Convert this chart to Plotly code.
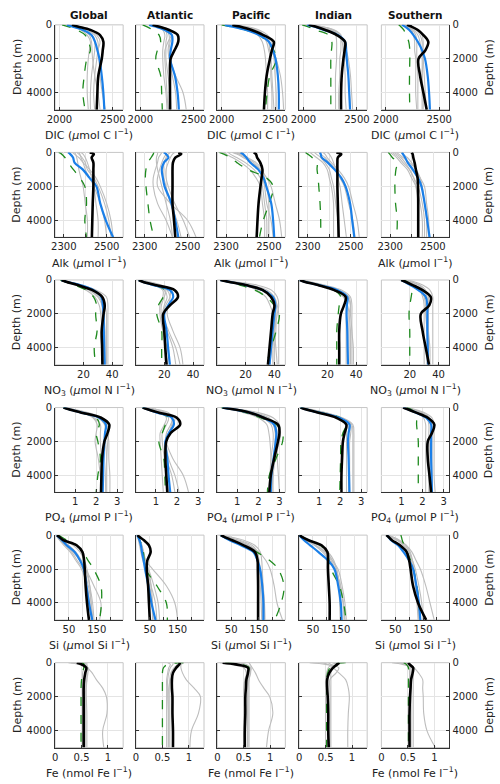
import plotly.graph_objects as go

DEPTH = [0, 100, 300, 600, 1000, 1500, 2000, 3000, 4000, 5000]
REGIONS = ["Global", "Atlantic", "Pacific", "Indian", "Southern"]

# ---------------- DIC ----------------
DIC_OBS = [
    [2117, 2170, 2290, 2380, 2411, 2405, 2396, 2364, 2355, 2349],
    [2115, 2170, 2270, 2350, 2355, 2320, 2284, 2278, 2278, 2278],
    [2100, 2170, 2280, 2390, 2488, 2470, 2452, 2421, 2405, 2396],
    [2049, 2110, 2204, 2312, 2389, 2385, 2374, 2358, 2352, 2352],
    [2198, 2240, 2300, 2352, 2398, 2370, 2306, 2321, 2352, 2383],
]
DIC_MEAN = [
    [2071, 2120, 2220, 2300, 2333, 2355, 2374, 2396, 2411, 2420],
    [2083, 2140, 2230, 2295, 2300, 2285, 2278, 2324, 2349, 2361],
    [2030, 2100, 2230, 2350, 2442, 2480, 2504, 2526, 2535, 2535],
    [2035, 2100, 2190, 2320, 2389, 2400, 2405, 2420, 2428, 2436],
    [2152, 2180, 2220, 2259, 2300, 2340, 2367, 2392, 2405, 2413],
]
DIC_ALT = [
    [2025, 2080, 2163, 2240, 2272, 2290, 2256, 2232, 2219, 2240],
    [2022, 2060, 2115, 2176, 2191, 2160, 2145, 2191, 2200, 2206],
    [2000, 2080, 2220, 2350, 2426, 2488, 2514, 2450, 2426, 2410],
    [1988, 2040, 2111, 2235, 2266, 2262, 2256, 2256, 2256, 2256],
    [2121, 2140, 2168, 2190, 2215, 2225, 2225, 2222, 2222, 2225],
]
DIC_MODELS = [
    [[2090, 2140, 2230, 2300, 2330, 2330, 2320, 2300, 2290, 2290],
     [2100, 2160, 2250, 2330, 2360, 2365, 2370, 2380, 2400, 2430],
     [2080, 2130, 2220, 2280, 2300, 2305, 2310, 2330, 2360, 2380],
     [2110, 2170, 2260, 2350, 2380, 2360, 2350, 2330, 2320, 2330],
     [2070, 2120, 2200, 2260, 2290, 2280, 2270, 2260, 2260, 2270]],
    [[2100, 2180, 2260, 2300, 2280, 2270, 2280, 2330, 2400, 2430],
     [2090, 2160, 2230, 2250, 2240, 2240, 2240, 2260, 2280, 2290],
     [2110, 2190, 2270, 2290, 2260, 2230, 2230, 2240, 2250, 2260],
     [2080, 2150, 2210, 2230, 2220, 2210, 2210, 2220, 2240, 2250],
     [2100, 2170, 2240, 2270, 2270, 2260, 2270, 2300, 2330, 2340]],
    [[2050, 2200, 2330, 2400, 2450, 2480, 2510, 2550, 2570, 2580],
     [2030, 2170, 2300, 2380, 2420, 2440, 2460, 2470, 2480, 2490],
     [2060, 2230, 2350, 2430, 2470, 2480, 2490, 2500, 2510, 2510],
     [2010, 2150, 2260, 2340, 2380, 2400, 2410, 2420, 2430, 2430],
     [2040, 2180, 2310, 2400, 2440, 2450, 2460, 2460, 2470, 2470]],
    [[2030, 2130, 2250, 2330, 2360, 2380, 2400, 2420, 2430, 2440],
     [2060, 2170, 2290, 2350, 2350, 2350, 2340, 2340, 2330, 2330],
     [2040, 2150, 2270, 2340, 2380, 2400, 2420, 2440, 2450, 2460],
     [2020, 2120, 2240, 2300, 2310, 2310, 2310, 2300, 2300, 2300],
     [2050, 2160, 2280, 2350, 2370, 2370, 2380, 2390, 2390, 2400]],
    [[2170, 2220, 2280, 2320, 2340, 2340, 2350, 2360, 2370, 2380],
     [2150, 2200, 2250, 2280, 2290, 2290, 2290, 2300, 2300, 2300],
     [2180, 2240, 2310, 2340, 2350, 2350, 2350, 2340, 2340, 2340],
     [2160, 2200, 2260, 2300, 2320, 2330, 2340, 2340, 2350, 2350],
     [2140, 2190, 2240, 2260, 2270, 2270, 2280, 2280, 2280, 2290]],
]

# ---------------- Alkalinity ----------------
ALK_OBS = [
    [2421, 2440, 2430, 2438, 2438, 2438, 2438, 2435, 2433, 2431],
    [2457, 2471, 2443, 2432, 2430, 2430, 2430, 2430, 2437, 2443],
    [2429, 2440, 2445, 2460, 2470, 2466, 2461, 2452, 2447, 2443],
    [2433, 2456, 2440, 2438, 2438, 2438, 2438, 2440, 2442, 2444],
    [2400, 2405, 2408, 2414, 2420, 2428, 2430, 2431, 2431, 2431],
]
ALK_MEAN = [
    [2320, 2330, 2343, 2350, 2388, 2420, 2452, 2470, 2496, 2530],
    [2389, 2400, 2411, 2390, 2380, 2385, 2393, 2425, 2443, 2457],
    [2368, 2380, 2395, 2413, 2450, 2475, 2488, 2511, 2520, 2525],
    [2357, 2360, 2365, 2393, 2424, 2456, 2476, 2497, 2507, 2517],
    [2355, 2360, 2370, 2382, 2405, 2430, 2446, 2461, 2473, 2484],
]
ALK_ALT = [
    [2276, 2290, 2305, 2321, 2344, 2375, 2398, 2406, 2398, 2406],
    [2343, 2340, 2330, 2315, 2306, 2303, 2306, 2315, 2325, 2343],
    [2269, 2290, 2320, 2351, 2400, 2488, 2520, 2502, 2474, 2456],
    [2289, 2300, 2320, 2343, 2343, 2348, 2351, 2357, 2360, 2360],
    [2291, 2298, 2310, 2333, 2327, 2323, 2322, 2325, 2333, 2330],
]
ALK_MODELS = [
    [[2340, 2350, 2370, 2390, 2420, 2450, 2470, 2500, 2520, 2530],
     [2370, 2375, 2380, 2390, 2400, 2420, 2440, 2470, 2490, 2500],
     [2350, 2355, 2360, 2365, 2370, 2380, 2390, 2400, 2410, 2410],
     [2380, 2390, 2400, 2410, 2420, 2430, 2440, 2450, 2460, 2460],
     [2360, 2370, 2385, 2400, 2410, 2440, 2460, 2490, 2510, 2520]],
    [[2400, 2400, 2390, 2380, 2370, 2360, 2360, 2420, 2500, 2540],
     [2380, 2375, 2365, 2360, 2350, 2340, 2340, 2360, 2400, 2430],
     [2420, 2410, 2400, 2390, 2390, 2390, 2400, 2420, 2450, 2470],
     [2360, 2360, 2355, 2355, 2360, 2370, 2380, 2400, 2420, 2430],
     [2440, 2430, 2420, 2410, 2400, 2400, 2410, 2440, 2480, 2510]],
    [[2330, 2350, 2380, 2420, 2460, 2490, 2510, 2530, 2550, 2560],
     [2310, 2320, 2350, 2390, 2430, 2460, 2470, 2480, 2490, 2490],
     [2350, 2370, 2400, 2440, 2470, 2480, 2490, 2500, 2500, 2500],
     [2290, 2300, 2330, 2370, 2410, 2440, 2460, 2470, 2480, 2480],
     [2340, 2360, 2390, 2430, 2460, 2470, 2480, 2490, 2510, 2520]],
    [[2350, 2360, 2380, 2400, 2430, 2450, 2470, 2490, 2510, 2520],
     [2330, 2340, 2360, 2380, 2400, 2410, 2420, 2430, 2440, 2440],
     [2390, 2400, 2410, 2420, 2430, 2440, 2450, 2460, 2470, 2480],
     [2310, 2320, 2340, 2370, 2390, 2400, 2410, 2420, 2420, 2420],
     [2370, 2380, 2390, 2410, 2440, 2470, 2490, 2510, 2530, 2540]],
    [[2330, 2340, 2360, 2390, 2420, 2440, 2460, 2470, 2480, 2480],
     [2300, 2310, 2330, 2350, 2380, 2400, 2420, 2440, 2450, 2450],
     [2350, 2360, 2380, 2400, 2420, 2440, 2450, 2460, 2470, 2470],
     [2320, 2330, 2350, 2370, 2390, 2410, 2430, 2450, 2460, 2460],
     [2310, 2320, 2340, 2360, 2390, 2410, 2420, 2430, 2430, 2430]],
]

# ---------------- Nitrate ----------------
NO3_OBS = [
    [4.8, 8, 16.1, 26.3, 33.1, 34.8, 34, 32.7, 33, 33.2],
    [2.3, 5, 13.6, 27.3, 29.5, 23.9, 19.3, 20, 20.7, 21.6],
    [2.5, 8, 20, 32, 37.7, 40, 38.8, 37.7, 36.6, 35.5],
    [0.9, 4, 13.4, 24.8, 32.7, 31.5, 29.3, 28.2, 28.2, 28.2],
    [14.1, 17, 22, 28.9, 34.6, 33.5, 27.7, 28.9, 31.1, 33.4],
]
NO3_MEAN = [
    [4.8, 8, 17.5, 27, 32.4, 33.5, 34, 34.2, 34.5, 34.8],
    [2.3, 5, 12.5, 24, 26.2, 22.7, 20, 21.6, 22.7, 23.9],
    [2.5, 8, 20, 32, 38.9, 40.7, 40, 38.8, 37.7, 36.6],
    [0.9, 4, 14, 27, 33.8, 33.5, 33.3, 33.8, 34, 34.3],
    [14.1, 16.5, 20.5, 26, 31.1, 32.2, 32.2, 32.2, 32.5, 32.7],
]
NO3_ALT = [
    [4, 7, 14, 22, 27, 29.2, 28.5, 29.5, 27.5, 28.6],
    [2.3, 5, 12.5, 20.5, 19.3, 15.9, 14.8, 18.2, 18.2, 18.2],
    [2.5, 7, 16, 26.4, 34.3, 40, 43.4, 41.2, 37.7, 34.3],
    [0.9, 4.5, 14.5, 24.8, 29.3, 28.2, 27.5, 26.5, 26.5, 26.5],
    [15.2, 18, 21, 21.6, 21, 20, 19.5, 20, 20, 20],
]
NO3_MODELS = [
    [[5, 9, 17, 27, 33, 35, 36, 36, 36, 36],
     [4, 8, 15, 24, 30, 33, 34, 35, 35, 35],
     [6, 10, 19, 29, 36, 37, 37, 37, 37, 37],
     [5, 8, 16, 25, 31, 33, 33, 33, 34, 34],
     [4, 7, 14, 22, 28, 31, 32, 33, 34, 35]],
    [[2, 7, 15, 22, 24, 23, 22, 26, 31, 33],
     [3, 8, 16, 21, 20, 18, 18, 22, 26, 28],
     [2, 6, 13, 19, 19, 17, 17, 19, 22, 24],
     [3, 9, 18, 24, 24, 21, 19, 20, 21, 22],
     [2, 7, 14, 20, 22, 20, 19, 23, 28, 31]],
    [[3, 10, 24, 35, 40, 42, 43, 43, 43, 43],
     [2, 8, 20, 31, 37, 40, 41, 41, 40, 40],
     [4, 12, 28, 38, 42, 43, 42, 40, 38, 37],
     [2, 7, 18, 28, 34, 37, 39, 40, 41, 42],
     [3, 9, 22, 33, 39, 41, 41, 40, 39, 39]],
    [[1, 6, 15, 27, 34, 36, 36, 37, 37, 37],
     [2, 7, 16, 28, 35, 36, 35, 35, 35, 35],
     [1, 5, 13, 24, 31, 34, 35, 36, 36, 36],
     [2, 8, 18, 30, 36, 37, 37, 37, 38, 38],
     [1, 6, 14, 25, 32, 33, 33, 33, 33, 33]],
    [[14, 20, 26, 30, 32, 33, 33, 33, 34, 34],
     [15, 21, 27, 31, 33, 33, 33, 33, 33, 33],
     [13, 18, 23, 27, 29, 30, 30, 30, 30, 30],
     [16, 23, 29, 34, 36, 36, 36, 36, 36, 36],
     [14, 19, 24, 28, 30, 31, 31, 32, 32, 32]],
]

# ---------------- Phosphate ----------------
PO4_OBS = [
    [0.45, 0.7, 1.3, 2.23, 2.62, 2.54, 2.39, 2.28, 2.25, 2.23],
    [0.37, 0.6, 1.14, 1.99, 2.15, 1.7, 1.49, 1.45, 1.49, 1.54],
    [0.3, 0.8, 1.6, 2.25, 2.93, 3.0, 2.93, 2.75, 2.59, 2.52],
    [0.12, 0.35, 0.97, 1.82, 2.29, 2.21, 2.13, 2.09, 2.06, 2.06],
    [1.08, 1.3, 1.7, 2.25, 2.56, 2.45, 2.25, 2.25, 2.33, 2.41],
]
PO4_MEAN = [
    [0.45, 0.7, 1.3, 2.15, 2.46, 2.42, 2.39, 2.35, 2.33, 2.31],
    [0.37, 0.6, 1.05, 1.75, 1.85, 1.62, 1.45, 1.54, 1.6, 1.68],
    [0.3, 0.8, 1.6, 2.25, 2.75, 2.85, 2.82, 2.72, 2.62, 2.59],
    [0.12, 0.35, 1.0, 1.95, 2.44, 2.4, 2.37, 2.4, 2.42, 2.44],
    [1.08, 1.3, 1.7, 2.17, 2.41, 2.41, 2.41, 2.41, 2.43, 2.45],
]
PO4_ALT = [
    [0.45, 0.7, 1.3, 2.0, 2.15, 2.0, 2.08, 2.2, 2.08, 2.0],
    [0.37, 0.6, 1.14, 1.6, 1.45, 1.3, 1.14, 1.37, 1.42, 1.45],
    [0.25, 0.7, 1.4, 2.1, 2.85, 3.15, 3.15, 2.84, 2.52, 2.43],
    [0.12, 0.4, 1.1, 2.0, 2.29, 2.13, 2.04, 2.02, 2.0, 1.98],
    [1.25, 1.45, 1.65, 1.72, 1.72, 1.76, 1.8, 1.8, 1.8, 1.8],
]
PO4_MODELS = [
    [[0.45, 0.8, 1.4, 2.1, 2.4, 2.45, 2.45, 2.5, 2.5, 2.5],
     [0.5, 0.9, 1.5, 2.2, 2.5, 2.55, 2.6, 2.6, 2.65, 2.65],
     [0.4, 0.7, 1.3, 1.9, 2.2, 2.2, 2.2, 2.25, 2.3, 2.3],
     [0.5, 0.9, 1.6, 2.3, 2.6, 2.6, 2.55, 2.5, 2.45, 2.45],
     [0.45, 0.8, 1.3, 1.85, 2.05, 2.0, 1.95, 2.1, 2.2, 2.3]],
    [[0.4, 0.9, 1.5, 1.9, 1.8, 1.6, 1.5, 1.8, 2.3, 2.55],
     [0.35, 0.8, 1.3, 1.6, 1.5, 1.3, 1.3, 1.4, 1.5, 1.6],
     [0.45, 1.0, 1.6, 1.8, 1.7, 1.5, 1.45, 1.5, 1.75, 1.9],
     [0.3, 0.7, 1.2, 1.5, 1.4, 1.2, 1.2, 1.25, 1.3, 1.35],
     [0.4, 0.85, 1.4, 1.75, 1.75, 1.6, 1.5, 1.6, 1.9, 2.1]],
    [[0.3, 0.9, 1.8, 2.5, 2.8, 2.9, 2.9, 2.9, 2.95, 3.0],
     [0.25, 0.7, 1.5, 2.2, 2.6, 2.7, 2.7, 2.6, 2.55, 2.5],
     [0.35, 1.0, 2.0, 2.7, 3.0, 3.05, 3.0, 2.8, 2.7, 2.65],
     [0.2, 0.6, 1.3, 2.0, 2.4, 2.5, 2.55, 2.6, 2.6, 2.6],
     [0.3, 0.8, 1.7, 2.4, 2.7, 2.8, 2.8, 2.75, 2.7, 2.7]],
    [[0.15, 0.5, 1.2, 2.0, 2.5, 2.5, 2.45, 2.45, 2.45, 2.45],
     [0.1, 0.45, 1.1, 1.9, 2.35, 2.4, 2.4, 2.4, 2.4, 2.4],
     [0.2, 0.6, 1.3, 2.1, 2.6, 2.65, 2.65, 2.65, 2.65, 2.65],
     [0.1, 0.4, 1.0, 1.8, 2.25, 2.3, 2.3, 2.3, 2.3, 2.3],
     [0.15, 0.5, 1.25, 2.05, 2.55, 2.6, 2.6, 2.6, 2.6, 2.6]],
    [[1.1, 1.5, 1.9, 2.2, 2.3, 2.3, 2.3, 2.3, 2.3, 2.3],
     [1.0, 1.5, 2.0, 2.35, 2.45, 2.45, 2.45, 2.45, 2.45, 2.45],
     [1.2, 1.6, 2.1, 2.45, 2.55, 2.55, 2.55, 2.55, 2.55, 2.6],
     [1.0, 1.4, 1.8, 2.05, 2.15, 2.15, 2.15, 2.15, 2.15, 2.15],
     [1.15, 1.55, 1.95, 2.3, 2.4, 2.4, 2.35, 2.35, 2.35, 2.35]],
]

# ---------------- Silicate ----------------
SI_OBS = [
    [7, 15, 30, 77.6, 98.7, 104.6, 106.8, 110, 115, 122],
    [6, 12, 29, 47, 53, 41, 39, 44, 47, 50],
    [13, 25, 54, 95, 136, 145, 146, 147, 147, 147],
    [2, 10, 34, 81, 102, 104, 104, 107, 110, 110],
    [18, 25, 38, 67, 91, 100, 105, 114, 132, 161],
]
SI_MEAN = [
    [7, 12, 25, 42, 70.7, 90, 103.3, 113, 122, 134],
    [6, 8, 13, 18, 22, 28, 33, 45, 56, 70.6],
    [13, 22, 45, 85, 130, 145, 154, 162, 166, 166],
    [2, 6, 18, 40, 70, 105, 127, 141, 150, 153],
    [20, 25, 35, 60, 80, 100, 114, 126, 135, 140],
]
SI_ALT = [
    [13, 22, 42, 77.6, 101, 119, 138.7, 165, 167, 160],
    [6, 8, 13, 22, 27, 30, 35, 76, 109.6, 113],
    [13, 25, 54, 95, 142, 189, 219, 240, 230, 207],
    [3, 12, 34, 77, 99, 108, 115, 145, 160, 169],
    [70, 72, 75, 82, 92, 105, 115, 128, 135, 140],
]
SI_MODELS = [
    [[5, 10, 20, 40, 65, 90, 110, 140, 165, 160],
     [5, 8, 16, 32, 55, 75, 95, 115, 125, 130],
     [6, 12, 25, 50, 75, 95, 110, 125, 135, 140],
     [4, 8, 18, 38, 60, 80, 100, 120, 130, 135],
     [7, 15, 35, 65, 90, 105, 115, 125, 130, 135]],
    [[5, 8, 12, 18, 25, 35, 60, 110, 140, 150],
     [4, 7, 11, 16, 22, 30, 45, 65, 80, 85],
     [6, 10, 15, 22, 28, 35, 45, 55, 60, 62],
     [5, 9, 14, 20, 26, 32, 40, 55, 70, 75],
     [4, 6, 9, 13, 18, 25, 35, 50, 58, 60]],
    [[10, 25, 60, 110, 150, 175, 190, 205, 215, 235],
     [12, 35, 80, 125, 145, 150, 152, 155, 158, 160],
     [8, 20, 50, 95, 130, 145, 155, 165, 170, 172],
     [15, 45, 95, 135, 155, 160, 162, 165, 168, 170],
     [10, 30, 70, 115, 140, 150, 155, 160, 162, 165]],
    [[3, 10, 30, 60, 95, 120, 140, 155, 165, 170],
     [4, 12, 35, 70, 100, 120, 135, 145, 150, 152],
     [2, 8, 25, 55, 85, 110, 130, 150, 160, 165],
     [5, 15, 40, 75, 105, 125, 135, 142, 146, 148],
     [3, 10, 28, 58, 92, 115, 130, 148, 158, 162]],
    [[20, 35, 60, 90, 110, 125, 140, 160, 175, 190],
     [15, 30, 55, 80, 95, 105, 115, 125, 130, 135],
     [25, 40, 65, 88, 100, 108, 115, 122, 128, 132],
     [18, 32, 58, 85, 100, 112, 122, 135, 145, 150],
     [22, 38, 62, 90, 104, 112, 118, 126, 132, 136]],
]

# ---------------- Iron ----------------
FE_OBS = [
    [0.41, 0.5, 0.59, 0.57, 0.55, 0.54, 0.54, 0.54, 0.54, 0.54],
    [0.83, 0.82, 0.76, 0.7, 0.68, 0.68, 0.69, 0.69, 0.70, 0.70],
    [0.1, 0.35, 0.58, 0.58, 0.55, 0.54, 0.53, 0.53, 0.52, 0.52],
    [0.76, 0.72, 0.64, 0.57, 0.53, 0.53, 0.54, 0.55, 0.55, 0.56],
    [0.51, 0.53, 0.6, 0.59, 0.56, 0.55, 0.54, 0.53, 0.53, 0.53],
]
FE_ALT = [
    [0.5, 0.55, 0.54, 0.52, 0.5, 0.49, 0.49, 0.49, 0.49, 0.49],
    [0.9, 0.6, 0.52, 0.5, 0.5, 0.5, 0.5, 0.5, 0.5, 0.5],
    [0.15, 0.45, 0.6, 0.57, 0.55, 0.54, 0.53, 0.52, 0.52, 0.52],
    [0.88, 0.65, 0.58, 0.54, 0.52, 0.52, 0.52, 0.52, 0.52, 0.52],
    [0.42, 0.47, 0.51, 0.51, 0.51, 0.51, 0.51, 0.51, 0.51, 0.51],
]
FE_MODELS = [
    [[0.6, 0.6, 0.62, 0.7, 0.78, 0.9, 0.97, 0.98, 0.9, 0.92],
     [0.25, 0.45, 0.6, 0.58, 0.56, 0.56, 0.56, 0.56, 0.56, 0.56],
     [0.45, 0.55, 0.6, 0.6, 0.6, 0.59, 0.59, 0.6, 0.6, 0.6],
     [0.55, 0.58, 0.55, 0.52, 0.52, 0.52, 0.52, 0.52, 0.52, 0.52],
     [0.3, 0.5, 0.62, 0.62, 0.6, 0.58, 0.57, 0.57, 0.57, 0.57]],
    [[0.85, 0.85, 0.85, 0.88, 0.95, 1.1, 1.22, 1.18, 1.05, 1.02],
     [0.6, 0.65, 0.62, 0.6, 0.58, 0.58, 0.58, 0.58, 0.58, 0.58],
     [0.9, 0.85, 0.78, 0.7, 0.65, 0.62, 0.62, 0.62, 0.62, 0.62],
     [0.7, 0.7, 0.65, 0.62, 0.6, 0.6, 0.6, 0.61, 0.61, 0.61],
     [0.75, 0.78, 0.72, 0.66, 0.64, 0.64, 0.64, 0.64, 0.64, 0.64]],
    [[0.6, 0.62, 0.66, 0.72, 0.78, 0.88, 0.99, 1.05, 0.97, 0.93],
     [0.3, 0.5, 0.6, 0.6, 0.58, 0.57, 0.57, 0.57, 0.57, 0.57],
     [0.05, 0.25, 0.5, 0.55, 0.52, 0.5, 0.5, 0.5, 0.5, 0.5],
     [0.2, 0.4, 0.62, 0.63, 0.6, 0.6, 0.6, 0.6, 0.6, 0.6],
     [0.4, 0.55, 0.64, 0.62, 0.6, 0.58, 0.58, 0.58, 0.58, 0.58]],
    [[0.55, 0.6, 0.65, 0.75, 0.88, 0.93, 0.95, 0.93, 0.92, 0.92],
     [0.2, 0.5, 0.75, 0.7, 0.58, 0.58, 0.58, 0.58, 0.58, 0.58],
     [0.75, 0.62, 0.55, 0.52, 0.5, 0.5, 0.5, 0.5, 0.5, 0.5],
     [0.4, 0.55, 0.62, 0.6, 0.6, 0.6, 0.6, 0.6, 0.6, 0.6],
     [0.85, 0.7, 0.6, 0.55, 0.54, 0.54, 0.54, 0.54, 0.54, 0.54]],
    [[0.5, 0.55, 0.62, 0.7, 0.78, 0.78, 0.79, 0.8, 0.86, 1.02],
     [0.2, 0.4, 0.55, 0.56, 0.55, 0.55, 0.55, 0.55, 0.55, 0.55],
     [0.35, 0.5, 0.58, 0.6, 0.6, 0.6, 0.6, 0.6, 0.6, 0.6],
     [0.45, 0.52, 0.56, 0.56, 0.56, 0.56, 0.56, 0.56, 0.56, 0.56],
     [0.3, 0.45, 0.52, 0.53, 0.53, 0.53, 0.53, 0.53, 0.53, 0.53]],
]

# Axis settings per variable (row)
X_RANGES = [[1959, 2596], [2259, 2577], [0.3, 47.6], [0.05, 3.28], [0, 245], [-0.002, 1.287]]
X_TICKVALS = [[2000, 2500], [2300, 2500], [20, 40], [1, 2, 3], [50, 150], [0, 0.5, 1]]
X_MINOR_GRID = [[], [2400], [], [], [100, 200], []]
X_LABELS = [
    "DIC (<i>μ</i>mol C l<sup>−1</sup>)",
    "Alk (<i>μ</i>mol l<sup>−1</sup>)",
    "NO<sub>3</sub> (<i>μ</i>mol N l<sup>−1</sup>)",
    "PO<sub>4</sub> (<i>μ</i>mol P l<sup>−1</sup>)",
    "Si (<i>μ</i>mol Si l<sup>−1</sup>)",
    "Fe (nmol Fe l<sup>−1</sup>)",
]
Y_TICKS = [0, 2000, 4000]

ROWS = [
    (DIC_OBS, DIC_MEAN, DIC_ALT, DIC_MODELS),
    (ALK_OBS, ALK_MEAN, ALK_ALT, ALK_MODELS),
    (NO3_OBS, NO3_MEAN, NO3_ALT, NO3_MODELS),
    (PO4_OBS, PO4_MEAN, PO4_ALT, PO4_MODELS),
    (SI_OBS, SI_MEAN, SI_ALT, SI_MODELS),
    (FE_OBS, None, FE_ALT, FE_MODELS),
]

W, H = 500, 784
COL_LEFT = [48, 130.5, 213.5, 297, 381]
COL_W = 69.5
ROW_TOP0 = 19
ROW_STEP = 128.55
ROW_H = 85.5

FONT = "DejaVu Sans"
GRAY = "#bdbdbd"
BLUE = "#1a7fe8"
GREEN = "#1e8a1e"
AXC = "#333333"
GRID = "#e4e4e4"

fig = go.Figure()
layout = dict(
    width=W, height=H, margin=dict(l=0, r=0, t=0, b=0),
    paper_bgcolor="white", plot_bgcolor="white", showlegend=False,
    font=dict(family=FONT, size=10, color="#222"),
)
shapes = []
annotations = []

for i, (obs, mean, alt, models) in enumerate(ROWS):
    top = ROW_TOP0 + i * ROW_STEP
    bot = top + ROW_H
    for j in range(5):
        k = i * 5 + j + 1
        xa = "x" if k == 1 else f"x{k}"
        ya = "y" if k == 1 else f"y{k}"
        for m in models[j]:
            fig.add_trace(go.Scatter(x=m, y=DEPTH, mode="lines", xaxis=xa, yaxis=ya,
                                     line=dict(color=GRAY, width=1.1, shape="spline", smoothing=1.0),
                                     hoverinfo="skip"))
        fig.add_trace(go.Scatter(x=alt[j], y=DEPTH, mode="lines", xaxis=xa, yaxis=ya,
                                 line=dict(color=GREEN, width=1.3, dash="dash", shape="spline", smoothing=1.0),
                                 hoverinfo="skip"))
        if mean is not None:
            fig.add_trace(go.Scatter(x=mean[j], y=DEPTH, mode="lines", xaxis=xa, yaxis=ya,
                                     line=dict(color=BLUE, width=2.2, shape="spline", smoothing=1.0),
                                     hoverinfo="skip"))
        fig.add_trace(go.Scatter(x=obs[j], y=DEPTH, mode="lines", xaxis=xa, yaxis=ya,
                                 line=dict(color="black", width=2.6, shape="spline", smoothing=1.0),
                                 hoverinfo="skip"))

        x0 = COL_LEFT[j] / W
        x1 = (COL_LEFT[j] + COL_W) / W
        y0 = 1 - bot / H
        y1 = 1 - top / H
        xkey = "xaxis" if k == 1 else f"xaxis{k}"
        ykey = "yaxis" if k == 1 else f"yaxis{k}"
        xcfg = dict(
            domain=[x0, x1], anchor=ya, range=X_RANGES[i],
            tickmode="array", tickvals=X_TICKVALS[i],
            showgrid=True, gridcolor=GRID, gridwidth=1, zeroline=False,
            showline=True, linecolor=AXC, linewidth=1, mirror=False,
            ticks="inside", ticklen=3, tickcolor=AXC,
            tickfont=dict(family=FONT, size=10, color="#222"),
        )
        if X_MINOR_GRID[i]:
            xcfg["minor"] = dict(tickmode="array", tickvals=X_MINOR_GRID[i], showgrid=True,
                                 gridcolor=GRID, gridwidth=1, ticks="inside", ticklen=3, tickcolor=AXC)
        layout[xkey] = xcfg
        layout[ykey] = dict(
            domain=[y0, y1], anchor=xa, range=[5000, 0],
            tickmode="array", tickvals=Y_TICKS,
            showgrid=True, gridcolor=GRID, gridwidth=1, zeroline=False,
            showline=True, linecolor=AXC, linewidth=1, mirror=False,
            ticks="inside", ticklen=3, tickcolor=AXC,
            side="right" if j == 4 else "left",
            showticklabels=(j == 0 or j == 4),
            tickfont=dict(family=FONT, size=10, color="#222"),
        )
        shapes.append(dict(type="rect", xref="paper", yref="paper", x0=x0, x1=x1, y0=y0, y1=y1,
                           line=dict(color="#c6c6c6", width=1), layer="below"))

        if i == 0:
            annotations.append(dict(text=f"<b>{REGIONS[j]}</b>", x=(COL_LEFT[j] + COL_W / 2) / W,
                                    y=1 - 9 / H, xref="paper", yref="paper", showarrow=False,
                                    xanchor="center", yanchor="middle",
                                    font=dict(family=FONT, size=10.5, color="#111")))
        if j in (0, 2, 4):
            annotations.append(dict(text=X_LABELS[i], x=(COL_LEFT[j] + COL_W / 2) / W,
                                    y=1 - (bot + 25) / H, xref="paper", yref="paper", showarrow=False,
                                    xanchor="center", yanchor="middle",
                                    font=dict(family=FONT, size=11, color="#222")))
    for xpx in (9, 491):
        annotations.append(dict(text="Depth (m)", x=xpx / W, y=1 - (top + ROW_H / 2) / H,
                                xref="paper", yref="paper", showarrow=False, textangle=-90,
                                xanchor="center", yanchor="middle",
                                font=dict(family=FONT, size=11, color="#222")))

layout["shapes"] = shapes
layout["annotations"] = annotations
fig.update_layout(**layout)
fig.write_html("out.html", config={"displayModeBar": False},
               post_script="document.body.style.margin='0px';document.body.style.padding='0px';")
